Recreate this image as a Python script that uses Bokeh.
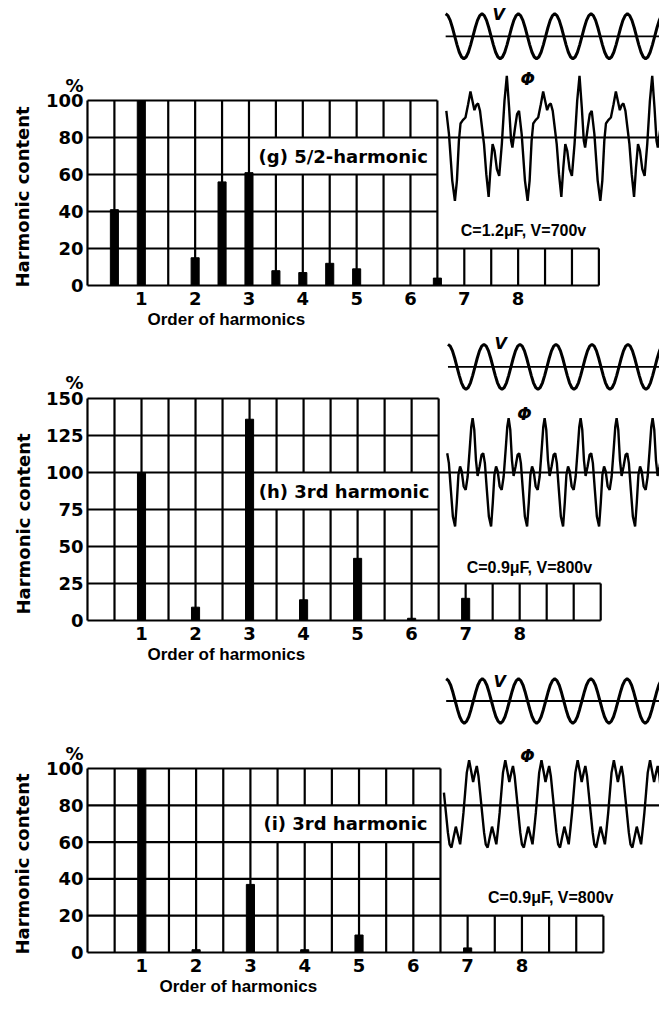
import numpy as np
from bokeh.plotting import figure
from bokeh.models import Range1d, LinearAxis, FixedTicker, Title
from bokeh.layouts import column
from bokeh.embed import file_html
from bokeh.resources import INLINE
from bokeh.core.properties import value

# ---------------- data ----------------
G_ORDERS = [0.5, 1, 2, 2.5, 3, 3.5, 4, 4.5, 5, 6.5]
G_CONTENT = [41, 100, 15, 56, 61, 8, 7, 12, 9, 4]
H_ORDERS = [1, 2, 3, 4, 5, 6, 7]
H_CONTENT = [100, 9, 136, 14, 42, 1.5, 15]
I_ORDERS = [1, 2, 3, 4, 5, 7]
I_CONTENT = [100, 1.5, 37, 1.5, 9.5, 2.5]

G_YTICKS = [0, 20, 40, 60, 80, 100]
H_YTICKS = [0, 25, 50, 75, 100, 125, 150]
I_YTICKS = [0, 20, 40, 60, 80, 100]
X_TICKS = [1, 2, 3, 4, 5, 6, 7, 8]
UNIT = "%"

G_LABEL = "(g) 5/2-harmonic"
H_LABEL = "(h) 3rd harmonic"
I_LABEL = "(i) 3rd harmonic"
G_COND = "C=1.2\u03bcF, V=700v"
H_COND = "C=0.9\u03bcF, V=800v"
I_COND = "C=0.9\u03bcF, V=800v"

# supply-voltage trace, one cycle (relative amplitude)
V_CYCLE = [1.0, 0.92, 0.71, 0.38, 0.0, -0.38, -0.71, -0.92,
           -1.0, -0.92, -0.71, -0.38, 0.0, 0.38, 0.71, 0.92]

# flux traces, one period each (time in voltage cycles, relative amplitude)
G_PHI_T = [0.2545, 0.309, 0.364, 0.409, 0.473, 0.545, 0.618, 0.682, 0.736, 0.791,
           0.845, 0.891, 0.945, 1.0, 1.055, 1.118, 1.182, 1.236, 1.291, 1.345,
           1.409, 1.473, 1.545, 1.618, 1.682, 1.745, 1.8, 1.836, 1.909, 1.964,
           2.018, 2.091, 2.182]
G_PHI_A = [-0.95, -0.65, -0.05, 0.21, 0.26, 0.30, 0.50, 0.69, 0.55, 0.41,
           0.49, 0.51, 0.40, 0.15, -0.10, -0.55, -0.89, -0.45, -0.10, -0.20,
           -0.475, -0.575, -0.10, 0.55, 0.925, 0.45, -0.05, -0.15, 0.15, 0.35,
           0.40, 0.05, -0.65]
H_PHI_T = [0.198, 0.244, 0.290, 0.336, 0.382, 0.437, 0.492, 0.547, 0.602, 0.648,
           0.685, 0.731, 0.777, 0.823, 0.878, 0.933, 0.979, 1.025, 1.080, 1.136]
H_PHI_A = [-0.953, -0.54, -0.04, 0.106, 0.018, -0.247, -0.306, -0.07, 0.40, 0.81,
           0.96, 0.75, 0.22, -0.06, 0.106, 0.31, 0.34, 0.165, -0.306, -0.776]
I_PHI_T = [0.147, 0.202, 0.267, 0.331, 0.386, 0.432, 0.478, 0.524, 0.570, 0.634,
           0.690, 0.745, 0.800, 0.846, 0.892, 0.938, 0.993, 1.048, 1.094]
I_PHI_A = [-0.907, -0.693, -0.457, -0.657, -0.836, -0.514, -0.157, 0.271, 0.70, 0.964,
           0.736, 0.50, 0.70, 0.843, 0.629, 0.271, -0.157, -0.586, -0.836]

TALL_END = 6.5
EXT_END = 9.5
W = 659


def tile(ts, vals, period, k_from, k_to, t_min):
    T, A = [], []
    for k in range(k_from, k_to + 1):
        for t, a in zip(ts, vals):
            tt = t + k * period
            if tt >= t_min:
                T.append(tt)
                A.append(a)
    return T, A


def make_panel(d):
    pad = 2
    L, sx, H, y0, sy = d["L"], d["sx"], d["H"], d["y0"], d["sy"]
    xr = Range1d(-pad / sx, (W - L) / sx)
    yr = Range1d(-pad / sy, y0 / sy)
    p = figure(width=W, height=H, x_range=xr, y_range=yr,
               output_backend="svg", toolbar_location=None,
               x_axis_location=None, y_axis_location=None,
               min_border_left=L - pad, min_border_right=0, min_border_top=0,
               min_border_bottom=H - y0 - pad,
               outline_line_color=None, background_fill_color="white",
               border_fill_color="white")
    p.grid.visible = False

    common = dict(axis_line_color=None, major_tick_line_color=None,
                  minor_tick_line_color=None, major_tick_in=0, major_tick_out=0,
                  minor_tick_in=0, minor_tick_out=0,
                  major_label_text_font="DejaVu Sans",
                  major_label_text_font_style="bold",
                  major_label_text_font_size="18px",
                  major_label_text_color="black")
    unit_y = d["unit_y"]
    p.add_layout(LinearAxis(ticker=FixedTicker(ticks=d["yticks"] + [unit_y]),
                            major_label_overrides={unit_y: UNIT},
                            major_label_standoff=2, **common), "left")
    p.add_layout(LinearAxis(ticker=FixedTicker(ticks=X_TICKS),
                            major_label_standoff=4, **common), "below")
    # axis titles
    p.add_layout(Title(text="Harmonic content", align="left", offset=d["ylab_off"],
                       standoff=d["ylab_standoff"],
                       text_font="DejaVu Sans", text_font_style="bold",
                       text_font_size="18px", text_color="black"), "left")
    p.add_layout(Title(text="Order of harmonics", align="left", offset=d["xlab_off"],
                       standoff=0,
                       text_font="Liberation Sans", text_font_style="bold",
                       text_font_size="17px", text_color="black"), "below")

    # extra ranges for the oscillograms
    tx0, P = d["tx0"], d["P"]
    trange = Range1d((L - pad - tx0) / P, (W - tx0) / P)
    Yv, Av, S = d["Yv"], d["Av"], d["S"]
    Ya = y0 - d["phi_level"] * sy
    p.extra_x_ranges = {"t": trange}
    p.extra_y_ranges = {"v": Range1d((Yv - y0 - pad) / Av, Yv / Av),
                        "a": Range1d((Ya - y0 - pad) / S, Ya / S)}

    # grid
    yt = d["yticks"]
    top = yt[-1]
    ext_top = yt[1]
    bx0, bx1, by0, by1 = d["box"]
    X0, Y0, X1, Y1 = [], [], [], []
    for y in yt:
        X0.append(0); Y0.append(y)
        X1.append(EXT_END if y <= ext_top else TALL_END); Y1.append(y)
    for x in np.arange(0, TALL_END + 0.01, 0.5):
        if bx0 < x < bx1:
            X0 += [x, x]; Y0 += [0, by1]; X1 += [x, x]; Y1 += [by0, top]
        else:
            X0.append(x); Y0.append(0); X1.append(x); Y1.append(top)
    for x in np.arange(TALL_END + 0.5, EXT_END + 0.01, 0.5):
        X0.append(x); Y0.append(0); X1.append(x); Y1.append(ext_top)
    # flux base line continues the grid line
    X0.append(TALL_END); Y0.append(d["phi_level"]); X1.append(xr.end); Y1.append(d["phi_level"])
    p.segment(x0=X0, y0=Y0, x1=X1, y1=Y1, line_color="black", line_width=2.2)

    # bars
    p.vbar(x=d["orders"], top=d["content"], bottom=0, width=0.15,
           fill_color="black", line_color="black")

    # voltage trace
    n = 6 * len(V_CYCLE) + 1
    vt = [k / len(V_CYCLE) for k in range(n)]
    va = [V_CYCLE[k % len(V_CYCLE)] for k in range(n)]
    p.line([0, trange.end], [0, 0], x_range_name="t", y_range_name="v",
           line_color="black", line_width=1.8)
    p.line(vt, va, x_range_name="t", y_range_name="v",
           line_color="black", line_width=3)

    # flux trace
    T, A = tile(d["phi_t"], d["phi_a"], d["phi_period"], -1, 6, d["phi_tmin"])
    p.line(T, A, x_range_name="t", y_range_name="a",
           line_color="black", line_width=2.4)

    # texts inside the frame
    p.text(x=[(bx0 + bx1) / 2], y=[(by0 + by1) / 2], text=[d["label"]],
           text_font=value("DejaVu Sans"), text_font_size="18px", text_font_style="bold",
           text_align="center", text_baseline="middle", text_color="black")
    p.text(x=[d["cond_xy"][0]], y=[d["cond_xy"][1]], text=[d["cond"]],
           text_font=value("Liberation Sans"), text_font_size="16px", text_font_style="bold",
           text_align="center", text_baseline="middle", text_color="black")
    p.text(x=[d["v_xy"][0]], y=[d["v_xy"][1]], text=["V"],
           text_font=value("DejaVu Sans"), text_font_size="16px",
           text_font_style="bold italic",
           text_align="center", text_baseline="middle", text_color="black")
    p.text(x=[d["phi_xy"][0]], y=[d["phi_xy"][1]], text=["\u03a6"],
           text_font=value("DejaVu Sans"), text_font_size="17px",
           text_font_style="bold italic",
           text_align="center", text_baseline="middle", text_color="black")
    return p


pg = make_panel(dict(orders=G_ORDERS, content=G_CONTENT, yticks=G_YTICKS, unit_y=108,
                     box=(3, 6.5, 60, 80), phi_level=80, label=G_LABEL, cond=G_COND,
                     phi_t=G_PHI_T, phi_a=G_PHI_A, phi_period=2.0, phi_tmin=0.0,
                     L=82, sx=54.3, H=335, y0=285, sy=1.85,
                     tx0=443.3, P=36.67, Yv=35.8, Av=22.5, S=66.67,
                     cond_xy=(8.1, 29.7), v_xy=(7.64, 146.5), phi_xy=(8.18, 111.4),
                     ylab_off=0, ylab_standoff=19, xlab_off=62))
ph = make_panel(dict(orders=H_ORDERS, content=H_CONTENT, yticks=H_YTICKS, unit_y=161,
                     box=(3, 6.5, 75, 100), phi_level=100, label=H_LABEL, cond=H_COND,
                     phi_t=H_PHI_T, phi_a=H_PHI_A, phi_period=1.0, phi_tmin=-0.03,
                     L=83, sx=54.4, H=337, y0=285, sy=1.48,
                     tx0=446.0, P=36.25, Yv=31.3, Av=22.5, S=56.67,
                     cond_xy=(8.18, 35.8), v_xy=(7.65, 187.0), phi_xy=(8.09, 139.2),
                     ylab_off=8, ylab_standoff=18, xlab_off=62))
pi_ = make_panel(dict(orders=I_ORDERS, content=I_CONTENT, yticks=I_YTICKS, unit_y=108,
                      box=(3, 6.5, 60, 80), phi_level=80, label=I_LABEL, cond=I_COND,
                      phi_t=I_PHI_T, phi_a=I_PHI_A, phi_period=1.0, phi_tmin=-0.07,
                      L=86, sx=54.4, H=338, y0=280, sy=1.84,
                      tx0=445.3, P=36.25, Yv=28.5, Av=22.2, S=46.67,
                      cond_xy=(8.53, 30.0), v_xy=(7.59, 147.3), phi_xy=(8.1, 107.0),
                      ylab_off=0, ylab_standoff=19, xlab_off=74))

layout = column(pg, ph, pi_, spacing=0)
open("out.html", "w").write(file_html(layout, INLINE, title="Harmonic content"))
